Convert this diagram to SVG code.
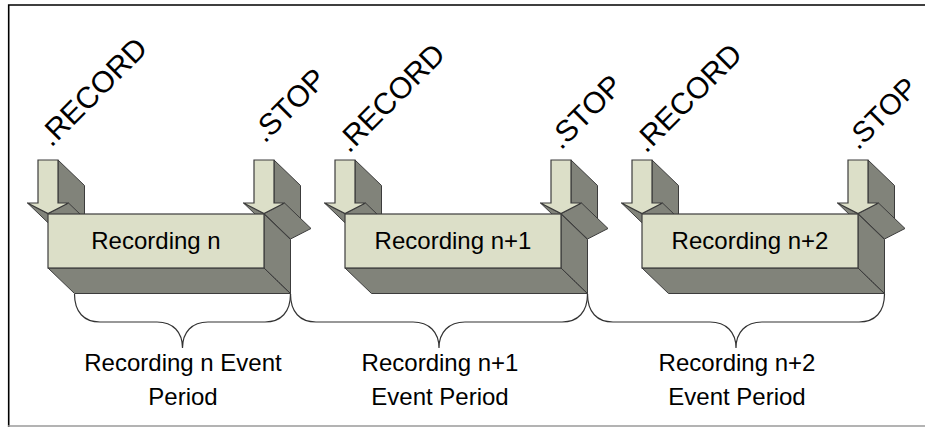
<svg xmlns="http://www.w3.org/2000/svg" xmlns:xlink="http://www.w3.org/1999/xlink" width="925" height="427" viewBox="0 0 925 427">
<style>
  .front{fill:#DCDFC8;stroke:#3c3c3c;stroke-width:1.2;stroke-linejoin:miter}
  .side{fill:#81837A;stroke:#3c3c3c;stroke-width:1;stroke-linejoin:miter}
  .lbl{font-family:"Liberation Sans",Arial,sans-serif;fill:#000}
  .cmd{font-size:30px}
  .box{font-size:24px;text-anchor:middle}
  .per{font-size:24px;text-anchor:middle}
  .brace{fill:none;stroke:#333;stroke-width:1.2}
</style>
<defs>
  <g id="arrow">
    <polygon class="side" points="10,-53.5 36.5,-28 36.5,15 10,-10.5"/>
    <polygon class="side" points="-20.5,-10.5 0,0 26.5,25.5 6,15"/>
    <polygon class="side" points="0,0 20.5,-10.5 47,15 26.5,25.5"/>
    <polygon class="front" points="-10,-53.5 10,-53.5 10,-10.5 20.5,-10.5 0,0 -20.5,-10.5 -10,-10.5"/>
  </g>
  <g id="block">
    <polygon class="side" points="0,54 216,54 242.5,79.5 26.5,79.5"/>
    <polygon class="side" points="216,0 242.5,25.5 242.5,79.5 216,54"/>
    <line x1="216" y1="54" x2="242.5" y2="79.5" stroke="#3c3c3c" stroke-width="1" stroke-dasharray="1.5,1.5"/>
    <rect class="front" x="0" y="0" width="216" height="54"/>
  </g>
</defs>
<rect width="925" height="427" fill="#fff"/>
<g id="frame" fill="none">
  <polyline points="8.7,427 8.7,5 925,5" stroke="#000" stroke-width="1.6"/>
  <line x1="8" y1="426" x2="925" y2="426" stroke="#9a9a9a" stroke-width="1.5"/>
</g>

<g id="recording-n">
  <use xlink:href="#arrow" href="#arrow" transform="translate(48,213.5)"/>
  <use xlink:href="#arrow" href="#arrow" transform="translate(264,213.5)"/>
  <use xlink:href="#block" href="#block" transform="translate(48,214)"/>
  <text class="lbl box" x="156" y="249">Recording n</text>
  <text class="lbl cmd" transform="translate(51.3,148) rotate(-45)">.RECORD</text>
  <text class="lbl cmd" transform="translate(264.7,144) rotate(-45)">.STOP</text>
</g>

<g id="recording-n1">
  <use xlink:href="#arrow" href="#arrow" transform="translate(345,213.5)"/>
  <use xlink:href="#arrow" href="#arrow" transform="translate(561,213.5)"/>
  <use xlink:href="#block" href="#block" transform="translate(345,214)"/>
  <text class="lbl box" x="453" y="249">Recording n+1</text>
  <text class="lbl cmd" transform="translate(349,154) rotate(-45)">.RECORD</text>
  <text class="lbl cmd" transform="translate(561,150.7) rotate(-45)">.STOP</text>
</g>

<g id="recording-n2">
  <use xlink:href="#arrow" href="#arrow" transform="translate(642,213.5)"/>
  <use xlink:href="#arrow" href="#arrow" transform="translate(858,213.5)"/>
  <use xlink:href="#block" href="#block" transform="translate(642,214)"/>
  <text class="lbl box" x="750" y="249">Recording n+2</text>
  <text class="lbl cmd" transform="translate(646,154) rotate(-45)">.RECORD</text>
  <text class="lbl cmd" style="font-size:29px" transform="translate(858,150.7) rotate(-45)">.STOP</text>
</g>

<g id="connectors">
  <path class="brace" d="M74.5,294 C74.5,312 84,322 100,322 L157,322 C173,322 182.5,332 182.5,348 C182.5,332 192,322 208,322 L265,322 C281,322 290.5,312 290.5,294"/>
  <path class="brace" d="M290.5,294 C290.5,312 300,322 316,322 L413,322 C429,322 439,332 439,348 C439,332 449,322 465,322 L562,322 C578,322 587.5,312 587.5,294"/>
  <path class="brace" d="M587.5,294 C587.5,312 597,322 613,322 L710,322 C726,322 736,332 736,348 C736,332 746,322 762,322 L859,322 C875,322 884.5,312 884.5,294"/>
</g>

<g id="period-labels">
  <text class="lbl per" x="183" y="371">Recording n Event</text>
  <text class="lbl per" x="183" y="405">Period</text>
  <text class="lbl per" x="440" y="371">Recording n+1</text>
  <text class="lbl per" x="440" y="405">Event Period</text>
  <text class="lbl per" x="737" y="371">Recording n+2</text>
  <text class="lbl per" x="737" y="405">Event Period</text>
</g>
</svg>
